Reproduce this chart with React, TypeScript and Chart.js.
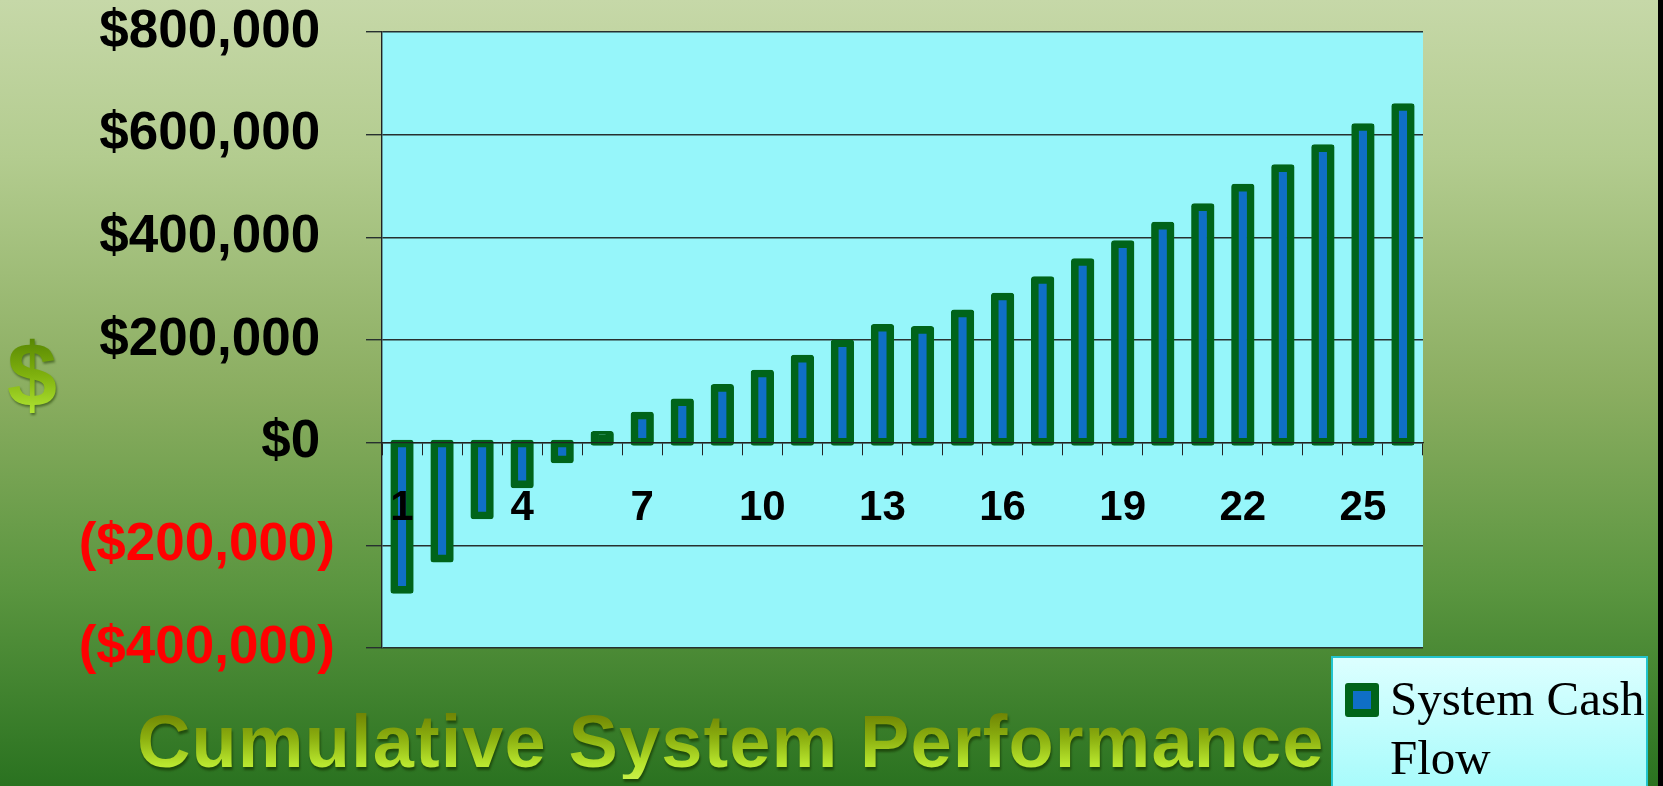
import React, { useEffect, useRef } from 'react';
import { Chart, registerables } from 'chart.js';

Chart.register(...registerables);

// ---- data ----
const categories = ['1', '2', '3', '4', '5', '6', '7', '8', '9', '10', '11', '12', '13', '14', '15', '16', '17', '18', '19', '20', '21', '22', '23', '24', '25', '26'];
const cashFlow = [-287000, -226000, -142000, -81500, -33000, 15600, 53000, 79000, 107000, 135000, 164000, 194000, 224000, 220000, 252000, 285000, 317000, 352000, 387000, 423000, 459000, 497000, 535000, 574000, 615000, 654000];
const shownXLabels = ['1', '4', '7', '10', '13', '16', '19', '22', '25'];
const yMin = -400000;
const yMax = 800000;
const yStep = 200000;
const seriesName = ['System Cash', 'Flow'];
const chartTitle = 'Cumulative System Performance';
const yAxisSymbol = '$';

const GREEN = '#00641a';
const BLUE = '#0f6fc6';

const plotBg = {
  id: 'plotBg',
  beforeDraw(chart: any) {
    const { ctx, chartArea } = chart;
    if (!chartArea) return;
    ctx.save();
    ctx.fillStyle = '#96f6fa';
    ctx.fillRect(chartArea.left, chartArea.top, chartArea.right - chartArea.left, chartArea.bottom - chartArea.top);
    ctx.restore();
  },
};

function fmtMoney(v: number): string {
  const abs = Math.abs(v).toLocaleString('en-US');
  return v < 0 ? `($${abs})` : `$${abs} `;
}

export default function App() {
  const canvasRef = useRef<HTMLCanvasElement | null>(null);

  useEffect(() => {
    if (!canvasRef.current) return;
    const chart = new Chart(canvasRef.current, {
      type: 'bar',
      data: {
        labels: categories,
        datasets: [
          {
            label: seriesName.join(' '),
            data: cashFlow,
            backgroundColor: (c: any) => (Math.abs(c.raw ?? 0) < 20000 ? GREEN : BLUE),
            borderColor: GREEN,
            borderWidth: 7.6,
            borderSkipped: false,
            borderRadius: 3,
            inflateAmount: 3.7,
            barPercentage: 0.397,
            categoryPercentage: 1,
          },
        ],
      },
      options: {
        responsive: false,
        animation: false,
        layout: { padding: { left: 0, top: 32, right: 240, bottom: 138 } },
        plugins: {
          legend: { display: false },
          title: { display: false },
          tooltip: { enabled: false },
        },
        scales: {
          x: {
            type: 'category',
            position: { y: 0 },
            offset: true,
            grid: {
              offset: true,
              drawOnChartArea: false,
              drawTicks: true,
              tickLength: 12,
              color: '#222',
              lineWidth: 1,
            },
            border: { display: true, color: '#222', width: 1.3, z: 1 },
            ticks: {
              autoSkip: false,
              maxRotation: 0,
              minRotation: 0,
              padding: 29,
              z: 1,
              color: '#000',
              font: { family: '"Liberation Sans", Arial, sans-serif', size: 42, weight: 'bold' },
              callback: (_v: any, i: number) => (shownXLabels.includes(categories[i]) ? categories[i] : ''),
            },
            afterFit: (scale: any) => {
              scale.paddingLeft = 0;
              scale.paddingRight = 0;
            },
          },
          y: {
            type: 'linear',
            min: yMin,
            max: yMax,
            grid: {
              drawOnChartArea: true,
              drawTicks: true,
              tickLength: 16,
              color: '#27302f',
              lineWidth: 1.4,
            },
            border: { display: true, color: '#222', width: 1.4 },
            ticks: {
              stepSize: yStep,
              padding: 31,
              color: (c: any) => (c.tick && c.tick.value < 0 ? '#ff0000' : '#000000'),
              font: { family: '"Liberation Sans", Arial, sans-serif', size: 53, weight: 'bold' },
              callback: (v: any) => fmtMoney(Number(v)),
            },
            afterFit: (scale: any) => {
              scale.width = 382;
              scale.paddingTop = 0;
              scale.paddingBottom = 0;
            },
          },
        },
      } as any,
      plugins: [plotBg],
    });
    return () => chart.destroy();
  }, []);

  return (
    <div
      style={{
        position: 'fixed',
        left: 0,
        top: 0,
        width: 1663,
        height: 786,
        overflow: 'hidden',
        background: 'linear-gradient(to bottom, #c6d8a8 0%, #b3cc8f 20%, #8aad60 50%, #5a953f 75%, #2a7220 100%)',
      }}
    >
      <canvas ref={canvasRef} width={1663} height={786} style={{ position: 'absolute', left: 0, top: 0, width: 1663, height: 786 }} />
      <div
        style={{
          position: 'absolute',
          left: 7,
          top: 330,
          fontFamily: '"Liberation Sans", Arial, sans-serif',
          fontWeight: 'bold',
          fontSize: 90,
          lineHeight: '90px',
          background: 'linear-gradient(to bottom, #4f7d00 0%, #7fb10e 50%, #b9ee3a 100%)',
          WebkitBackgroundClip: 'text',
          backgroundClip: 'text',
          color: 'transparent',
          filter: 'drop-shadow(1px 2px 1px rgba(30,60,0,0.55))',
        }}
      >
        {yAxisSymbol}
      </div>
      <div
        style={{
          position: 'absolute',
          left: 137,
          top: 705,
          whiteSpace: 'nowrap',
          fontFamily: '"Liberation Sans", Arial, sans-serif',
          fontWeight: 'bold',
          fontSize: 74,
          lineHeight: '74px',
          letterSpacing: 1.1,
          background: 'linear-gradient(to bottom, #667600 0%, #8cb010 45%, #b8e62e 80%, #c6f048 100%)',
          WebkitBackgroundClip: 'text',
          backgroundClip: 'text',
          color: 'transparent',
          filter: 'drop-shadow(1px 3px 1px rgba(20,50,0,0.65))',
        }}
      >
        {chartTitle}
      </div>
      <div
        style={{
          position: 'absolute',
          left: 1331,
          top: 656,
          width: 313,
          height: 140,
          border: '2px solid #22c4cc',
          background: 'linear-gradient(to bottom, #dcffff 0%, #a4fbfb 100%)',
        }}
      >
        <div
          style={{
            position: 'absolute',
            left: 12,
            top: 25,
            width: 18,
            height: 18,
            border: '8px solid ' + GREEN,
            borderRadius: 3,
            background: BLUE,
          }}
        />
        <div
          style={{
            position: 'absolute',
            left: 57,
            top: 11,
            whiteSpace: 'nowrap',
            fontFamily: '"Liberation Serif", "Times New Roman", serif',
            fontSize: 49,
            lineHeight: '59px',
            color: '#000',
          }}
        >
          {seriesName[0]}
          <br />
          {seriesName[1]}
        </div>
      </div>
      <div style={{ position: 'absolute', left: 1658, top: 0, width: 5, height: 786, background: '#000' }} />
    </div>
  );
}
